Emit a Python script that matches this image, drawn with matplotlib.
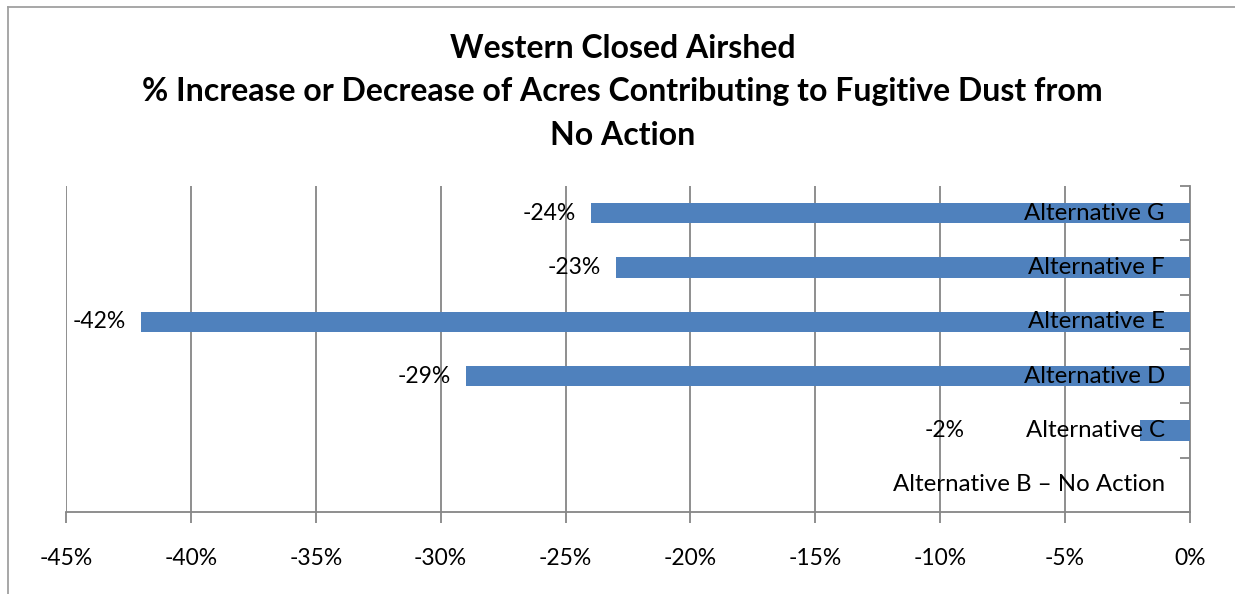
#!/usr/bin/env python3
"""Western Closed Airshed - % change in dust-contributing acres vs No Action."""
import matplotlib
matplotlib.use("Agg")
import matplotlib.pyplot as plt
from matplotlib.lines import Line2D
from matplotlib.ticker import FuncFormatter, MultipleLocator

plt.rcParams["font.family"] = ["Lato", "DejaVu Sans"]

# data, bottom to top as drawn
categories = [
    "Alternative B \u2013 No Action",
    "Alternative C",
    "Alternative D",
    "Alternative E",
    "Alternative F",
    "Alternative G",
]
pct_change = [0, -2, -29, -42, -23, -24]
# B has no bar and no label in the original
show_label = [False, True, True, True, True, True]
# Excel pushed the tiny C label clear of the category text
label_shift = [0, -160, 0, 0, 0, 0]

BAR_COLOR = "#4F81BD"
GRID_COLOR = "#868686"

fig = plt.figure(figsize=(12.35, 5.94), dpi=100)
ax = fig.add_axes([66 / 1235, 1 - 512 / 594, (1190 - 66) / 1235, (512 - 186) / 594])

ypos = list(range(len(categories)))
ax.barh(ypos, pct_change, height=0.37, color=BAR_COLOR, zorder=3)

ax.set_xlim(-45, 0)
ax.set_ylim(-0.5, len(categories) - 0.5)
ax.xaxis.set_major_locator(MultipleLocator(5))
ax.xaxis.set_major_formatter(FuncFormatter(lambda v, _: f"{v:.0f}%"))
ax.grid(axis="x", color=GRID_COLOR, linewidth=1.3, zorder=0)
ax.tick_params(axis="x", direction="out", length=8, width=1.3, color=GRID_COLOR,
               labelsize=16.5, pad=18)

# category axis sits at 0% on the right, ticks at category boundaries
ax.yaxis.tick_right()
ax.set_yticks([y - 0.5 for y in range(len(categories) + 1)])
ax.set_yticklabels([])
ax.tick_params(axis="y", direction="in", length=7, width=1.3, color=GRID_COLOR)

for side in ("top", "left"):
    ax.spines[side].set_visible(False)
for side in ("bottom", "right"):
    ax.spines[side].set_color(GRID_COLOR)
    ax.spines[side].set_linewidth(1.3)

for y, (cat, val, lab, shift) in enumerate(zip(categories, pct_change, show_label, label_shift)):
    ax.annotate(cat, xy=(0, y), xytext=(-25, 0), textcoords="offset pixels",
                ha="right", va="center", fontsize=17.3, zorder=5)
    if lab:
        ax.annotate(f"{val}%", xy=(val, y), xytext=(-15 + shift, 0), textcoords="offset pixels",
                    ha="right", va="center", fontsize=16.5, zorder=5)

fig.text(0.504, 1 - 34 / 594,
         "Western Closed Airshed\n"
         "% Increase or Decrease of Acres Contributing to Fugitive Dust from\n"
         "No Action",
         ha="center", va="top", fontsize=23, fontweight="bold", linespacing=1.6)

# chart frame, only the left and top edges show in the crop
fig.add_artist(Line2D([8 / 1235, 8 / 1235], [0, 1 - 7 / 594], color="#A0A0A0", linewidth=1.3))
fig.add_artist(Line2D([8 / 1235, 1], [1 - 7 / 594, 1 - 7 / 594], color="#A0A0A0", linewidth=1.3))

fig.savefig("out.png", dpi=100)
